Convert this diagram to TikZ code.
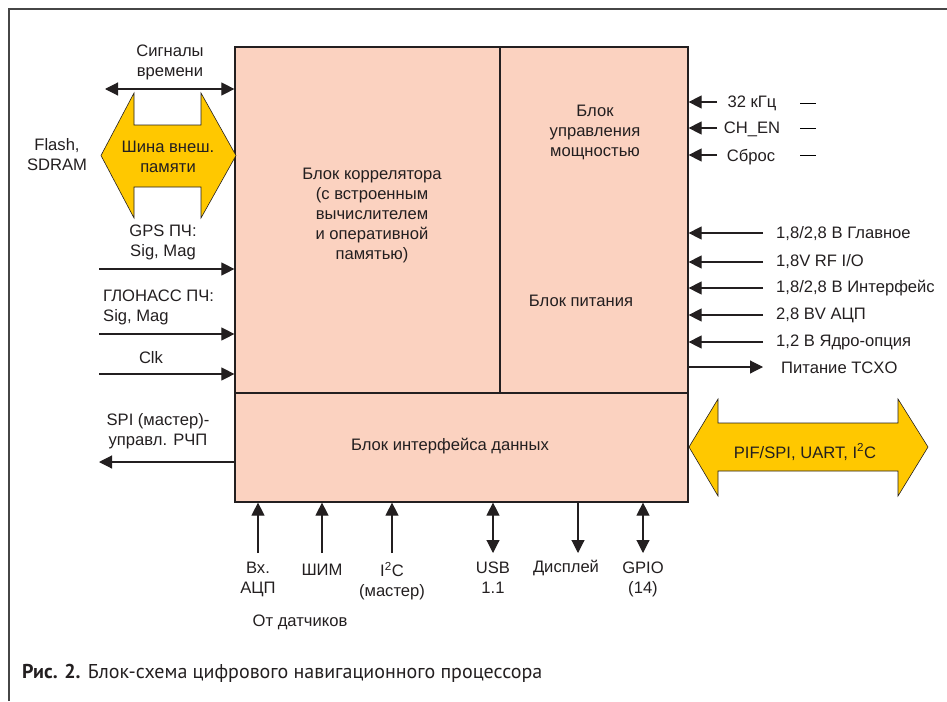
\documentclass[tikz,border=0pt]{standalone}
\usepackage{fontspec}
\setmainfont{Liberation Sans}
\newfontfamily\captionfont{PT Sans}
\usetikzlibrary{shapes,arrows,arrows.meta,positioning}
\definecolor{blockfill}{RGB}{251,210,192}
\definecolor{busyellow}{RGB}{255,200,0}
\definecolor{framegrey}{RGB}{70,70,70}
\definecolor{inkgrey}{RGB}{35,31,32}

\begin{document}
\begin{tikzpicture}[x=1pt, y=-1pt, text=inkgrey, font=\fontsize{16.6}{20}\selectfont]

\useasboundingbox (0,0) rectangle (947,701);

% Стили
\tikzstyle{block} = [rectangle, draw=inkgrey, line width=1.2pt, fill=blockfill, inner sep=0pt]
\tikzstyle{label} = [align=center, inner sep=0pt]
\tikzstyle{arrow} = [draw=inkgrey, line width=1.1pt, -{Triangle[length=13pt,width=13pt]}]
\tikzstyle{darrow} = [draw=inkgrey, line width=1.1pt, {Triangle[length=13pt,width=13pt]}-{Triangle[length=13pt,width=13pt]}]
\tikzstyle{bus} = [fill=busyellow, draw=inkgrey, line width=0.6pt, line join=miter]

% Рамка
\draw [framegrey, line width=2pt] (9,701) -- (9,9) -- (947,9);

% Блоки
\node (corr) [block, minimum width=265, minimum height=346] at (367.5,220) {};
\node (power) [block, minimum width=188, minimum height=346] at (594,220) {};
\node (iface) [block, minimum width=453, minimum height=109] at (461.5,447.5) {};

\node (corrtext) [label] at (372,216) {Блок коррелятора\\(с встроенным\\вычислителем\\и оперативной\\памятью)};
\node (pwrctl) [label] at (595,132) {Блок\\управления\\мощностью};
\node (pwrsup) [label] at (581,301) {Блок питания};
\node (ifacetext) [label] at (450,446) {Блок интерфейса данных};

% Левая сторона
\node (timing) [label] at (170,62) {Сигналы\\времени};
\coordinate (timingL) at (105,89);
\draw [darrow] (timingL) -- (timingL -| corr.west);

\draw [bus] (101,155.5) -- (134,93) -- (134,125) -- (201,125) -- (201,93) -- (236,155.5)
  -- (201,218) -- (201,187) -- (134,187) -- (134,218) -- cycle;
\node (membus) [label] at (168,157) {Шина внеш.\\памяти};
\node (flash) [label] at (57,155) {Flash,\\SDRAM};

\node (gps) [label] at (163,242) {GPS ПЧ:\\Sig, Mag};
\coordinate (gpsin) at (99,269);
\draw [arrow] (gpsin) -- (gpsin -| corr.west);

\node (glonass) [label, align=left, anchor=west] at (103,307) {ГЛОНАСС ПЧ:\\Sig, Mag};
\coordinate (glonassin) at (99,334);
\draw [arrow] (glonassin) -- (glonassin -| corr.west);

\node (clk) [label] at (151,358) {Clk};
\coordinate (clkin) at (99,374);
\draw [arrow] (clkin) -- (clkin -| corr.west);

\node (spi) [label] at (158,431) {SPI (мастер)-\\управл. РЧП};
\coordinate (spiout) at (99,462);
\draw [arrow] (spiout -| iface.west) -- (spiout);

% Правая сторона: управление
\coordinate (clk32) at (717,102);
\draw [arrow] (clk32) -- (clk32 -| power.east);
\node (clk32text) [label] at (752,103) {32 кГц};
\draw [line width=1pt] (800,103) -- (816,103);

\coordinate (chen) at (717,128);
\draw [arrow] (chen) -- (chen -| power.east);
\node (chentext) [label] at (752,129) {CH\_EN};
\draw [line width=1pt] (800,128) -- (816,128);

\coordinate (reset) at (717,155);
\draw [arrow] (reset) -- (reset -| power.east);
\node (resettext) [label] at (751,157) {Сброс};
\draw [line width=1pt] (800,155) -- (816,155);

% Правая сторона: питание
\coordinate (vmain) at (763,233);
\draw [arrow] (vmain) -- (vmain -| power.east);
\node (vmaintext) [label, anchor=west] at (776,234) {1,8/2,8 В Главное};

\coordinate (vrf) at (763,262);
\draw [arrow] (vrf) -- (vrf -| power.east);
\node (vrftext) [label, anchor=west] at (776,262) {1,8V RF I/O};

\coordinate (vif) at (763,288);
\draw [arrow] (vif) -- (vif -| power.east);
\node (viftext) [label, anchor=west] at (776,288) {1,8/2,8 В Интерфейс};

\coordinate (vadc) at (763,315);
\draw [arrow] (vadc) -- (vadc -| power.east);
\node (vadctext) [label, anchor=west] at (776,315) {2,8 BV АЦП};

\coordinate (vcore) at (763,342);
\draw [arrow] (vcore) -- (vcore -| power.east);
\node (vcoretext) [label, anchor=west] at (776,342) {1,2 В Ядро-опция};

\coordinate (tcxo) at (763,367);
\draw [arrow] (tcxo -| power.east) -- (tcxo);
\node (tcxotext) [label, anchor=west] at (781,368) {Питание TCXO};

% Шина PIF
\draw [bus] (689,447) -- (718,399) -- (718,423) -- (898,423) -- (898,399) -- (928,447)
  -- (898,496) -- (898,471) -- (718,471) -- (718,496) -- cycle;
\node (pif) [label] at (805,452) {PIF/SPI, UART, I\textsuperscript{2}C};

% Нижняя сторона
\coordinate (adc) at (258,553);
\draw [arrow] (adc) -- (adc |- iface.south);
\node (adctext) [label, below=9pt of adc] {Вх.\\АЦП};

\coordinate (pwm) at (322,553);
\draw [arrow] (pwm) -- (pwm |- iface.south);
\node (pwmtext) [label, below=11pt of pwm] {ШИМ};

\coordinate (i2c) at (392,553);
\draw [arrow] (i2c) -- (i2c |- iface.south);
\node (i2ctext) [label, below=9pt of i2c] {I\textsuperscript{2}C\\(мастер)};

\coordinate (usb) at (493,553);
\draw [darrow] (usb) -- (usb |- iface.south);
\node (usbtext) [label, below=9pt of usb] {USB\\1.1};

\coordinate (disp) at (578,553);
\draw [arrow] (disp |- iface.south) -- (disp);
\node (disptext) [label, below=7pt of disp, xshift=-12pt] {Дисплей};

\coordinate (gpio) at (643,553);
\draw [darrow] (gpio) -- (gpio |- iface.south);
\node (gpiotext) [label, below=9pt of gpio] {GPIO\\(14)};

\node (sensors) [label] at (300,622) {От датчиков};

% Подпись
\node (caption) [anchor=west, inner sep=0pt, font=\captionfont\fontsize{20}{24}\selectfont] at (22,673)
  {\textbf{Рис. 2.} Блок-схема цифрового навигационного процессора};
\end{tikzpicture}
\end{document}
